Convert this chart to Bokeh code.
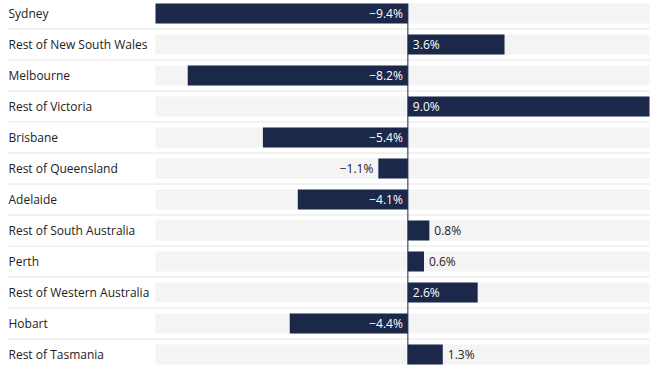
from bokeh.plotting import figure
from bokeh.models import ColumnDataSource, Range1d
from bokeh.core.properties import value
from bokeh.embed import file_html
from bokeh.resources import INLINE

categories = ["Sydney", "Rest of New South Wales", "Melbourne", "Rest of Victoria",
              "Brisbane", "Rest of Queensland", "Adelaide", "Rest of South Australia",
              "Perth", "Rest of Western Australia", "Hobart", "Rest of Tasmania"]
values = [-9.4, 3.6, -8.2, 9.0, -5.4, -1.1, -4.1, 0.8, 0.6, 2.6, -4.4, 1.3]

BAR = "#1b2849"
BAND = "#f4f4f4"
TXT = "#222222"
FONT = value("Open Sans")

W, H = 650, 370
LABEL_PX = 155      # left edge of the bands
RIGHT_PX = 649      # right edge of the bands
FIRST_C, PITCH, BAR_PX = 13.0, 31.0, 20.0

n = len(categories)
idx = list(range(n))
vmin, vmax = min(values), max(values)
scale = (RIGHT_PX - LABEL_PX) / (vmax - vmin)
xstart = vmin - LABEL_PX / scale
xend = vmax + (W - RIGHT_PX) / scale
ybottom = (H - FIRST_C) / PITCH
ytop = -FIRST_C / PITCH
bh = BAR_PX / PITCH

p = figure(width=W, height=H, output_backend="svg", toolbar_location=None,
           x_range=Range1d(xstart, xend), y_range=Range1d(ybottom, ytop),
           x_axis_location=None, y_axis_location=None, min_border=0,
           outline_line_color=None, background_fill_color="white")
p.grid.visible = False

src = ColumnDataSource(dict(y=idx, v=values, cat=categories,
                            lo=[vmin] * n, hi=[vmax] * n, zero=[0] * n))

# background bands
p.hbar(y="y", left="lo", right="hi", height=bh, source=src, fill_color=BAND, line_color=None)

# dotted separators
sy = [i + 0.5 for i in idx[:-1]]
p.segment(x0=[xstart + 8 / scale] * len(sy), x1=[vmax] * len(sy), y0=sy, y1=sy,
          line_color="#cccccc", line_width=1, line_dash="1 1")

# bars
p.hbar(y="y", left="zero", right="v", height=bh, source=src, fill_color=BAR, line_color=None)

# zero line
p.segment(x0=[0], x1=[0], y0=[-bh / 2], y1=[n - 1 + bh / 2], line_color=BAR, line_width=1)

# category labels
p.text(x=[xstart] * n, y=idx, text=categories, text_font=FONT, text_font_size="12px",
       text_color=TXT, text_align="left", text_baseline="middle", x_offset=8)

def fmt(v):
    s = f"{abs(v):.1f}%"
    return ("\u2212" + s) if v < 0 else s

for sign in (-1, 1):
    xs, ys, ts, cs = [], [], [], []
    for i, v in enumerate(values):
        if (v < 0) != (sign < 0):
            continue
        inside = abs(v) >= 2
        xs.append(0 if inside else v)
        ys.append(i)
        ts.append(fmt(v))
        cs.append("white" if inside else TXT)
    p.text(x=xs, y=ys, text=ts, text_color=cs, text_font=FONT, text_font_size="12px",
           text_align="right" if sign < 0 else "left", text_baseline="middle",
           x_offset=5 * sign)

open("out.html", "w").write(file_html(p, INLINE))
